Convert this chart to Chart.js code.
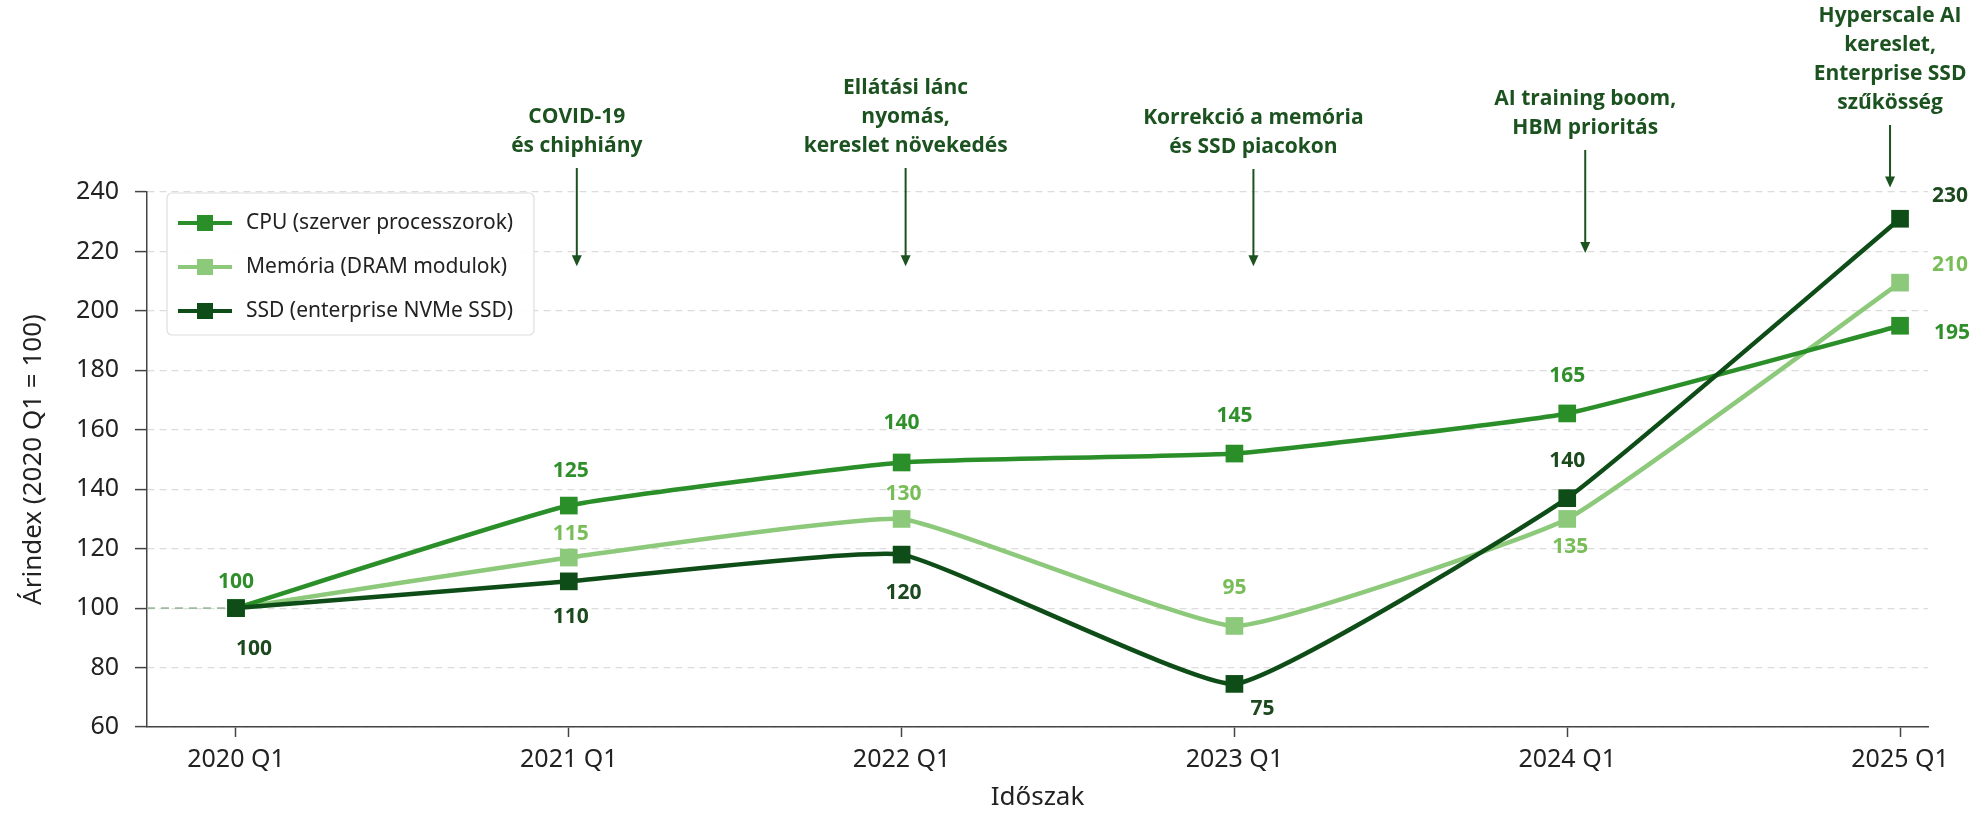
<!DOCTYPE html>
<html>
<head>
<meta charset="utf-8">
<script src="https://cdn.jsdelivr.net/npm/chart.js@4.4.1/dist/chart.umd.min.js"></script>
<style>
  html, body { margin: 0; padding: 0; background: #ffffff; }
</style>
</head>
<body>
<canvas id="arGrafikon" width="1985" height="813"></canvas>
<script>
// adatok
const periodusok = ['2020 Q1', '2021 Q1', '2022 Q1', '2023 Q1', '2024 Q1', '2025 Q1'];
const cpuErtek = [100, 134.5, 149, 152, 165.5, 195];
const memoriaErtek = [100, 117, 130, 94, 130, 209.5];
const ssdErtek = [100, 109, 118, 74.5, 137, 231];
// a pontok mellé írt számok (ahogy a képen szerepelnek)
const cpuFelirat = ['100', '125', '140', '145', '165', '195'];
const memoriaFelirat = ['', '115', '130', '95', '135', '210'];
const ssdFelirat = ['100', '110', '120', '75', '140', '230'];

const esemenyIndex = [1, 2, 3, 4, 5];
const esemenySzovegek = [
  ['COVID-19', 'és chiphiány'],
  ['Ellátási lánc', 'nyomás,', 'kereslet növekedés'],
  ['Korrekció a memória', 'és SSD piacokon'],
  ['AI training boom,', 'HBM prioritás'],
  ['Hyperscale AI', 'kereslet,', 'Enterprise SSD', 'szűkösség']
];
const esemenyNyilCel = [215, 215, 215, 219.5, 241.5];

// stílus
const esemenyDx = [8, 4, 19, 18, -10];
const esemenyUtolsoSor = [146, 146, 147, 128, 103];

const sorozatok = [
  { nev: 'CPU (szerver processzorok)', adat: cpuErtek, felirat: cpuFelirat, szin: '#2a8f28', feliratSzin: '#2f8f2a', sorrend: 1,
    poz: [[0, -26], [2, -35], [0, -39], [0, -38], [0, -37], [52, 7]] },
  { nev: 'Memória (DRAM modulok)', adat: memoriaErtek, felirat: memoriaFelirat, szin: '#8dc97a', feliratSzin: '#79bd58', sorrend: 2,
    poz: [[0, 0], [2, -24], [2, -25], [0, -38], [3, 28], [50, -18]] },
  { nev: 'SSD (enterprise NVMe SSD)', adat: ssdErtek, felirat: ssdFelirat, szin: '#0e4d17', feliratSzin: '#1c4a1e', sorrend: 0,
    poz: [[18, 41], [2, 36], [2, 38], [28, 25], [0, -37], [50, -23]] }
];

const sotetZold = '#1b5220';

const alapVonal = {
  id: 'alapVonal',
  beforeDatasetsDraw(chart) {
    const { ctx, chartArea, scales } = chart;
    const y = scales.y.getPixelForValue(100);
    ctx.save();
    ctx.strokeStyle = '#9dbb9d';
    ctx.lineWidth = 1.6;
    ctx.setLineDash([8, 6]);
    ctx.beginPath();
    ctx.moveTo(chartArea.left, y);
    ctx.lineTo(scales.x.getPixelForValue(0), y);
    ctx.stroke();
    ctx.restore();
  }
};

const pontFeliratok = {
  id: 'pontFeliratok',
  afterDatasetsDraw(chart) {
    const { ctx, scales } = chart;
    ctx.save();
    ctx.font = 'bold 21px "Open Sans"';
    ctx.textAlign = 'center';
    ctx.textBaseline = 'middle';
    sorozatok.forEach(s => {
      s.adat.forEach((v, i) => {
        if (!s.felirat[i]) return;
        const x = scales.x.getPixelForValue(i) + s.poz[i][0];
        const y = scales.y.getPixelForValue(v) + s.poz[i][1];
        ctx.fillStyle = s.feliratSzin;
        ctx.fillText(s.felirat[i], x, y);
      });
    });
    ctx.restore();
  }
};

const esemenyek = {
  id: 'esemenyek',
  afterDraw(chart) {
    const { ctx, scales } = chart;
    ctx.save();
    ctx.font = 'bold 21px "Open Sans"';
    ctx.textAlign = 'center';
    ctx.textBaseline = 'middle';
    ctx.fillStyle = sotetZold;
    ctx.strokeStyle = sotetZold;
    esemenyIndex.forEach((idx, k) => {
      const x = scales.x.getPixelForValue(idx) + esemenyDx[k];
      const sorok = esemenySzovegek[k];
      sorok.forEach((t, j) => {
        const y = esemenyUtolsoSor[k] - (sorok.length - 1 - j) * 29;
        ctx.fillText(t, x, y);
      });
      const y0 = esemenyUtolsoSor[k] + 22;
      const y1 = scales.y.getPixelForValue(esemenyNyilCel[k]);
      ctx.lineWidth = 2;
      ctx.beginPath();
      ctx.moveTo(x, y0);
      ctx.lineTo(x, y1 - 10);
      ctx.stroke();
      ctx.beginPath();
      ctx.moveTo(x - 5, y1 - 11);
      ctx.lineTo(x + 5, y1 - 11);
      ctx.lineTo(x, y1);
      ctx.closePath();
      ctx.fill();
    });
    ctx.restore();
  }
};

const jelmagyarazat = {
  id: 'jelmagyarazat',
  afterDraw(chart) {
    const { ctx } = chart;
    const bx = 167, by = 193, bw = 367, bh = 142;
    ctx.save();
    ctx.fillStyle = 'rgba(255,255,255,0.92)';
    ctx.strokeStyle = '#dedede';
    ctx.lineWidth = 1.2;
    ctx.beginPath();
    ctx.roundRect(bx, by, bw, bh, 5);
    ctx.fill();
    ctx.stroke();
    ctx.font = '21px "Noto Sans"';
    ctx.textBaseline = 'middle';
    ctx.textAlign = 'left';
    chart.data.datasets.forEach((ds, i) => {
      const y = by + 30 + i * 44;
      ctx.strokeStyle = ds.borderColor;
      ctx.fillStyle = ds.borderColor;
      ctx.lineWidth = 4;
      ctx.beginPath();
      ctx.moveTo(bx + 11, y);
      ctx.lineTo(bx + 65, y);
      ctx.stroke();
      ctx.fillRect(bx + 38 - 8, y - 8, 16, 16);
      ctx.fillStyle = '#222';
      ctx.fillText(ds.label, bx + 79, y);
    });
    ctx.restore();
  }
};

const ctx = document.getElementById('arGrafikon').getContext('2d');
const arGrafikon = new Chart(ctx, {
  type: 'line',
  data: {
    datasets: sorozatok.map(s => ({
      label: s.nev,
      data: s.adat.map((v, i) => ({ x: i, y: v })),
      borderColor: s.szin,
      backgroundColor: s.szin,
      borderWidth: 4.5,
      pointStyle: 'rect',
      pointRadius: 12.5,
      pointHoverRadius: 12.5,
      pointBorderWidth: 0,
      tension: 0.12,
      fill: false,
      order: s.sorrend
    }))
  },
  options: {
    responsive: false,
    animation: false,
    layout: { padding: { top: 192, right: 57, bottom: 0, left: 0 } },
    plugins: {
      legend: { display: false },
      tooltip: { enabled: false }
    },
    scales: {
      x: {
        type: 'linear',
        min: -0.2674,
        max: 5.084,
        afterBuildTicks: s => { s.ticks = periodusok.map((p, i) => ({ value: i })); },
        afterFit: s => { s.height = 86; },
        ticks: {
          callback: v => periodusok[v],
          font: { family: 'Noto Sans', size: 25 },
          color: '#222',
          padding: 8,
          autoSkip: false,
          maxRotation: 0
        },
        grid: { drawOnChartArea: false, drawTicks: true, tickLength: 10, tickColor: '#444', tickWidth: 1.5 },
        border: { color: '#444', width: 1.5 },
        title: {
          display: true,
          text: 'Időszak',
          font: { family: 'Noto Sans', size: 26 },
          color: '#222',
          padding: { top: 0, bottom: 0 }
        }
      },
      y: {
        min: 60,
        max: 240,
        afterFit: s => { s.width = 147; },
        ticks: {
          stepSize: 20,
          font: { family: 'Noto Sans', size: 25 },
          color: '#222',
          padding: 16
        },
        grid: { color: '#dcdcdc', lineWidth: 1.2, tickLength: 12, tickColor: '#444', tickWidth: 1.5, tickBorderDash: [] },
        border: { color: '#444', width: 1.5, dash: [7, 5] },
        title: {
          display: true,
          text: 'Árindex (2020 Q1 = 100)',
          font: { family: 'Noto Sans', size: 26 },
          color: '#222',
          padding: { top: 18, bottom: 0 }
        }
      }
    }
  },
  plugins: [alapVonal, pontFeliratok, esemenyek, jelmagyarazat]
});
</script>
</body>
</html>
